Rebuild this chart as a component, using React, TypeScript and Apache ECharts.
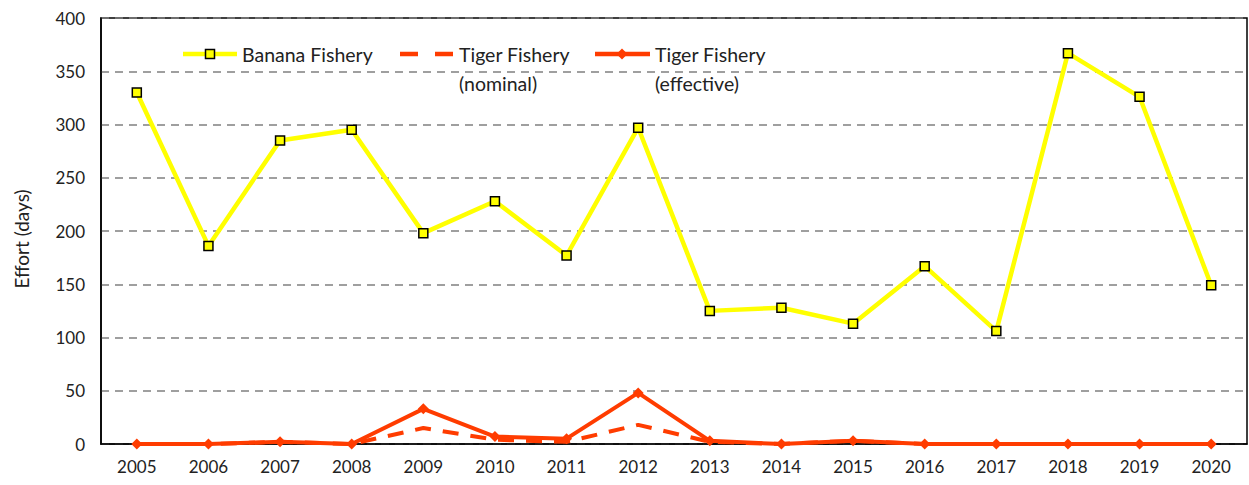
import React, { useEffect, useRef } from "react";
import * as echarts from "echarts";

const years = ["2005","2006","2007","2008","2009","2010","2011","2012","2013","2014","2015","2016","2017","2018","2019","2020"];
const banana = [330, 186, 285, 295, 198, 228, 177, 297, 125, 128, 113, 167, 106, 367, 326, 149];
const tigerNominal = [0, 0, 2, 0, 15, 4, 2, 18, 2, 0, 3, 0, 0, 0, 0, 0];
const tigerEffective = [0, 0, 2, 0, 33, 7, 5, 48, 3, 0, 3, 0, 0, 0, 0, 0];
const yTicks = { min: 0, max: 400, interval: 50 };

const FONT = "Lato";
const RED = "#ff3c00";
const YELLOW = "#ffff00";

export default function App() {
  const ref = useRef<HTMLDivElement>(null);
  useEffect(() => {
    const chart = echarts.init(ref.current!, null, { renderer: "svg" });
    const legendY = 54;
    const textStyle = { fill: "#222", font: `19.5px ${FONT}` };
    chart.setOption({
      animation: false,
      grid: { left: 101, right: 2, top: 18, bottom: 41, show: true, borderColor: "#000", borderWidth: 1.5, containLabel: false },
      xAxis: {
        type: "category",
        data: years,
        boundaryGap: true,
        axisLine: { lineStyle: { color: "#000", width: 1.5 } },
        axisTick: { show: false },
        axisLabel: { color: "#222", fontFamily: FONT, fontSize: 17, margin: 14 },
      },
      yAxis: {
        type: "value",
        min: yTicks.min,
        max: yTicks.max,
        interval: yTicks.interval,
        name: "Effort (days)",
        nameLocation: "middle",
        nameGap: 70,
        nameTextStyle: { color: "#222", fontFamily: FONT, fontSize: 19, padding: [0, 16, 0, 0] },
        axisLine: { show: true, lineStyle: { color: "#000", width: 1.5 } },
        axisTick: { show: false },
        axisLabel: { color: "#222", fontFamily: FONT, fontSize: 17, margin: 16 },
        splitLine: { lineStyle: { color: "#808080", type: [8, 6], width: 1.5 } },
      },
      series: [
        {
          name: "Banana Fishery",
          type: "line",
          data: banana,
          symbol: "rect",
          symbolSize: 9,
          lineStyle: { color: YELLOW, width: 4.5 },
          itemStyle: { color: YELLOW, borderColor: "#000", borderWidth: 1.5 },
          z: 3,
        },
        {
          name: "Tiger Fishery (nominal)",
          type: "line",
          data: tigerNominal,
          symbol: "none",
          lineStyle: { color: RED, width: 4, type: [16, 12] },
          z: 4,
        },
        {
          name: "Tiger Fishery (effective)",
          type: "line",
          data: tigerEffective,
          symbol: "diamond",
          symbolSize: 11,
          lineStyle: { color: RED, width: 4 },
          itemStyle: { color: RED },
          z: 5,
        },
      ],
      graphic: [
        { type: "line", shape: { x1: 183, y1: legendY, x2: 237, y2: legendY }, style: { stroke: YELLOW, lineWidth: 4.5 } },
        { type: "rect", shape: { x: 205.5, y: legendY - 4.5, width: 9, height: 9 }, style: { fill: YELLOW, stroke: "#000", lineWidth: 1.5 } },
        { type: "text", x: 242, y: legendY, style: { ...textStyle, text: "Banana Fishery", textVerticalAlign: "middle" } },
        { type: "line", shape: { x1: 400, y1: legendY, x2: 453, y2: legendY }, style: { stroke: RED, lineWidth: 4.5, lineDash: [18, 17] } },
        { type: "text", x: 459, y: legendY, style: { ...textStyle, text: "Tiger Fishery", textVerticalAlign: "middle" } },
        { type: "text", x: 459, y: legendY + 29, style: { ...textStyle, text: "(nominal)", textVerticalAlign: "middle" } },
        { type: "line", shape: { x1: 595, y1: legendY, x2: 650, y2: legendY }, style: { stroke: RED, lineWidth: 4.5 } },
        { type: "polygon", shape: { points: [[622, legendY - 5.5], [627.5, legendY], [622, legendY + 5.5], [616.5, legendY]] }, style: { fill: RED } },
        { type: "text", x: 655, y: legendY, style: { ...textStyle, text: "Tiger Fishery", textVerticalAlign: "middle" } },
        { type: "text", x: 655, y: legendY + 29, style: { ...textStyle, text: "(effective)", textVerticalAlign: "middle" } },
      ],
    });
    return () => chart.dispose();
  }, []);
  return <div ref={ref} style={{ width: 1249, height: 485, position: "absolute", left: 0, top: 0 }} />;
}
